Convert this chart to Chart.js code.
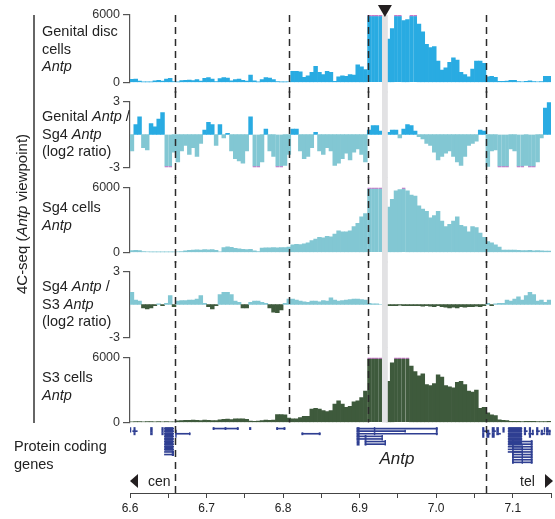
<!DOCTYPE html>
<html>
<head>
<meta charset="utf-8">
<script src="https://cdn.jsdelivr.net/npm/chart.js"></script>
<style>
  body { margin: 0; background: #fff; }
  #page { position: relative; width: 555px; height: 519px; overflow: hidden;
          font-family: 'Liberation Sans', Arial, Helvetica, sans-serif; color: #222; }
  canvas { position: absolute; left: 0; }
  .lbl { position: absolute; left: 42px; font-size: 14.5px; line-height: 17.5px; white-space: nowrap; }
  #ytitle { position: absolute; left: 21px; top: 214px; font-size: 15px; white-space: nowrap;
            transform: translate(-50%, -50%) rotate(-90deg); }
  #ybar { position: absolute; left: 33px; top: 15px; width: 1.5px; height: 408px; background: #666; }
  .ctext { position: absolute; top: 472px; font-size: 14px; line-height: 18px; }
  .tri { position: absolute; top: 474px; width: 0; height: 0;
         border-top: 7px solid transparent; border-bottom: 7px solid transparent; }
  #antp { position: absolute; left: 397px; top: 459px; font-size: 17px; font-style: italic;
          transform: translate(-50%, -50%); }
</style>
</head>
<body>
<div id="page">
  <canvas id="t1" width="555" height="93" style="top:0px"></canvas>
  <canvas id="t2" width="555" height="87" style="top:91px"></canvas>
  <canvas id="t3" width="555" height="86" style="top:177px"></canvas>
  <canvas id="t4" width="555" height="87" style="top:261px"></canvas>
  <canvas id="t5" width="555" height="86" style="top:347px"></canvas>
  <canvas id="genes" width="555" height="93" style="top:426px"></canvas>

  <div id="ybar"></div>
  <div id="ytitle">4C-seq (<i>Antp</i> viewpoint)</div>
  <div class="lbl" style="top:23px">Genital disc<br>cells<br><i>Antp</i></div>
  <div class="lbl" style="top:108px">Genital <i>Antp</i> /<br>Sg4 <i>Antp</i><br>(log2 ratio)</div>
  <div class="lbl" style="top:199px">Sg4 cells<br><i>Antp</i></div>
  <div class="lbl" style="top:278px">Sg4 <i>Antp</i> /<br>S3 <i>Antp</i><br>(log2 ratio)</div>
  <div class="lbl" style="top:369px">S3 cells<br><i>Antp</i></div>
  <div class="lbl" style="top:438px;left:14px">Protein coding<br>genes</div>
  <div id="antp">Antp</div>
  <div class="tri" style="left:130px;border-right:8px solid #231f20"></div>
  <div class="ctext" style="left:148px">cen</div>
  <div class="ctext" style="left:520px">tel</div>
  <div class="tri" style="left:545px;border-left:8px solid #231f20"></div>
</div>
<script>
const family = "'Liberation Sans', Arial, Helvetica, sans-serif";
Chart.defaults.font.family = family;

// genome window (Mb) and 5 kb bins
const xMin = 6.6, xMax = 7.15;
const binStart = 6.6, binSize = 0.005;

// 4C-seq read counts per bin
const genital = [
  280, 300, 120, 20, 20, 40, 150, 200, 120, 300,
  380, 80, 40, 180, 200, 220, 180, 250, 120, 380,
  430, 300, 80, 350, 430, 400, 150, 250, 300, 200,
  120, 660, 150, 40, 250, 430, 400, 250, 80, 40,
  20, 60, 1000, 1000, 950, 450, 600, 900, 1430, 900,
  700, 1000, 900, 100, 500, 600, 550, 700, 650, 1570,
  1400, 1140, 6000, 6000, 6000, 6000, 6000, 3860, 4800, 6000,
  6000, 5500, 5600, 6000, 6000, 5200, 4500, 3400, 3100, 3200,
  1900, 1100, 1300, 1800, 2200, 2000, 900, 700, 500, 1200,
  1900, 1900, 1700, 500, 550, 450, 100, 100, 120, 200,
  200, 80, 60, 100, 150, 80, 60, 80, 550, 550
];
const genitalVsSg4 = [
  -1.5, 0.9, 1.6, -1.2, -1.4, 1.0, 0.7, 1.4, 2.0, -3,
  -3, -1.6, -2.5, -1.5, -1.0, -1.8, -1.2, -2.0, -0.8, 0.4,
  1.1, 0.9, -1.0, 0.9, -0.3, 0.1, -1.5, -2.2, -2.4, -2.6,
  -1.5, 1.6, -3, -3, -2.5, 0.5, -1.5, -2.0, -3, -3,
  -2.8, -1.8, 0.5, 0.5, -1.5, -2.2, -2.0, -1.2, 0.2, -1.5,
  -1.8, -1.2, -1.5, -2.8, -2.6, -2.2, -1.7, -2.3, -1.6, -1.3,
  -1.8, -2.5, 0.4, 0.8, 0.8, 0.3, 0, 0.2, 0.4, 0.4,
  -0.3, 0.5, 0.9, 0.8, 0.3, -0.2, -0.4, -0.8, -1.0, -1.6,
  -2.3, -2.0, -1.7, -1.5, -2.0, -2.5, -2.8, -2.0, -1.0, -0.8,
  -0.6, 0.4, 0.3, -2.9, -1.5, -1.4, -3, -3, -3, -1.3,
  -1.5, -3, -3, -2.8, -3, -3, -2.5, -0.3, 2.4, 2.9
];
const sg4 = [
  170, 200, 170, 80, 50, 30, 30, 30, 30, 40,
  40, 30, 50, 80, 150, 200, 220, 250, 230, 260,
  240, 260, 200, 60, 450, 520, 480, 380, 330, 300,
  280, 300, 150, 80, 400, 430, 420, 450, 430, 450,
  460, 500, 700, 750, 720, 800, 900, 1100, 1250, 1400,
  1350, 1500, 1450, 1700, 2000, 1900, 1900, 2000, 2400, 2700,
  3300, 3600, 6000, 6000, 6000, 6000, 6000, 4200, 4900, 5700,
  5800, 6000, 5700, 5300, 5200, 4300, 4000, 3800, 3200, 3400,
  3800, 2900, 2400, 2600, 2900, 3300, 2500, 2400, 1900, 2400,
  2300, 1800, 1400, 1000, 900, 700, 500, 230, 230, 220,
  230, 200, 180, 180, 200, 160, 180, 150, 130, 130
];
const sg4VsS3 = [
  1.1, 0.4, 0.3, -0.3, -0.4, -0.3, -0.1, 0.05, -0.1, 0.1,
  0.8, -0.2, 0.3, 0.35, 0.35, 0.4, 0.4, 0.5, 0.8, 0.1,
  -0.2, -0.4, -0.1, 0.9, 1.1, 1.1, 0.9, 0.3, 0.2, -0.3,
  -0.3, 0.2, 0.3, 0.3, 0.2, 0.1, -0.3, -0.7, -0.75, -0.5,
  0.1, 0.5, 0.5, 0.4, 0.3, 0.25, 0.2, 0.3, 0.3, 0.25,
  0.35, 0.3, 0.6, 0.4, 0.3, 0.35, 0.4, 0.45, 0.5, 0.5,
  0.45, 0.4, 0.1, 0.05, 0.05, 0, 0, -0.1, -0.1, -0.1,
  -0.05, -0.1, -0.1, -0.1, -0.1, -0.1, -0.15, -0.1, -0.15, -0.2,
  -0.1, -0.2, -0.25, -0.3, -0.25, -0.3, -0.2, -0.25, -0.2, -0.2,
  -0.15, -0.2, -0.1, 0.1, -0.1, 0.05, 0.1, 0.1, 0.4, 0.3,
  0.5, 0.7, 0.4, 0.8, 1.1, 0.9, 0.3, 0.4, 0.2, 0.4
];
const s3 = [
  60, 80, 90, 70, 80, 90, 60, 80, 70, 90,
  70, 60, 150, 180, 200, 190, 220, 200, 180, 220,
  200, 180, 180, 250, 300, 320, 280, 330, 340, 350,
  300, 130, 110, 120, 180, 220, 200, 220, 720, 730,
  700, 400, 350, 340, 450, 580, 580, 1250, 1300, 1250,
  1100, 1000, 1100, 1700, 2000, 1700, 1400, 1500, 1900, 2000,
  2300, 2900, 6000, 6000, 6000, 6000, 6000, 3800, 5500, 6000,
  6000, 6000, 6000, 5200, 4700, 4300, 4500, 3500, 3400, 3600,
  4400, 4200, 3400, 3300, 3200, 3700, 3800, 3500, 2900, 2800,
  3000, 1300, 1400, 900, 700, 650, 250, 200, 180, 100,
  110, 100, 90, 100, 110, 100, 90, 80, 90, 100
];

// TAD-like boundaries (dashed) and the viewpoint
const boundaries = [6.6592, 6.808, 6.9115, 7.065];
const outerBoundaries = [6.6592, 7.065];
const viewpoint = 6.933;
const viewpointBand = [6.9292, 6.9368];

// gene models: [from, to, firstRow, lastRow]
const transcripts = [
  [6.6035, 6.6095, 1, 1], [6.6450, 6.6570, 0, 10], [6.6595, 6.6785, 2, 2],
  [6.7085, 6.7415, 0, 0], [6.7915, 6.8025, 0, 0], [6.8245, 6.8485, 2, 2],
  [6.8965, 7.0015, 0, 0], [6.8965, 6.9595, 1, 1], [6.8965, 7.0015, 2, 2],
  [6.8965, 6.9295, 3, 4], [6.9070, 6.9335, 5, 6],
  [7.0615, 7.0650, 1, 1], [7.0665, 7.0705, 2, 2], [7.0735, 7.0775, 1, 1],
  [7.0800, 7.0840, 2, 2], [7.0940, 7.1120, 0, 9], [7.0995, 7.1255, 5, 13],
  [7.1150, 7.1190, 1, 1], [7.1210, 7.1270, 2, 2], [7.1310, 7.1350, 1, 1],
  [7.1370, 7.1420, 2, 2], [7.1440, 7.1490, 1, 1]
];
const exonBlocks = [
  [6.6000, 6.6012, 0, 1], [6.6050, 6.6068, 0, 2], [6.6268, 6.6292, 0, 2],
  [6.6415, 6.6435, 0, 2], [6.6455, 6.6560, 0, 8], [6.6550, 6.6570, 9, 10],
  [6.6595, 6.6605, 1, 3], [6.6775, 6.6785, 2, 2],
  [6.7085, 6.7100, 0, 0], [6.7240, 6.7255, 0, 0], [6.7400, 6.7415, 0, 0],
  [6.7560, 6.7580, 0, 0], [6.7915, 6.7930, 0, 0], [6.8010, 6.8025, 0, 0],
  [6.8245, 6.8260, 2, 2], [6.8470, 6.8485, 2, 2],
  [6.8965, 6.8995, 0, 6], [6.9070, 6.9085, 3, 6], [6.9190, 6.9200, 0, 2],
  [6.9290, 6.9300, 3, 4], [6.9330, 6.9340, 5, 6], [6.9590, 6.9600, 1, 1],
  [7.0000, 7.0015, 0, 2],
  [7.0605, 7.0625, 0, 3], [7.0660, 7.0690, 1, 3], [7.0730, 7.0760, 0, 3],
  [7.0790, 7.0815, 0, 2], [7.0870, 7.0890, 0, 1], [7.0945, 7.1115, 0, 6],
  [7.0995, 7.1010, 5, 13], [7.1120, 7.1130, 7, 13], [7.1240, 7.1255, 5, 13],
  [7.1150, 7.1170, 0, 2], [7.1215, 7.1235, 0, 3], [7.1255, 7.1270, 1, 2],
  [7.1310, 7.1330, 0, 2], [7.1370, 7.1390, 1, 2], [7.1410, 7.1420, 0, 1],
  [7.1440, 7.1465, 0, 2], [7.1475, 7.1490, 1, 2]
];

const blue = '#29abe2', teal = '#82c7d3', green = '#3e5a3c', capColor = '#c878c8', navy = '#2f3f92';

// dashed boundaries, grey viewpoint band and the viewpoint triangle
const guides = {
  id: 'guides',
  afterDatasetsDraw(chart, args, o) {
    const {ctx, chartArea} = chart;
    const x = chart.scales.x;
    const top = o.fromArea ? chartArea.top : 0;
    const bottom = o.toArea ? chartArea.bottom + (o.extra || 0) : chart.height;
    ctx.save();
    if (o.band) {
      const a = x.getPixelForValue(viewpointBand[0]);
      const b = x.getPixelForValue(viewpointBand[1]);
      ctx.fillStyle = '#e2e2e4';
      ctx.fillRect(a, top, b - a, bottom - top);
    }
    ctx.strokeStyle = '#2b2b2b';
    ctx.lineWidth = 1.5;
    ctx.setLineDash([7, 5]);
    (o.lines || []).forEach(v => {
      const px = Math.round(x.getPixelForValue(v)) + 0.5;
      ctx.beginPath();
      ctx.moveTo(px, top);
      ctx.lineTo(px, bottom);
      ctx.stroke();
    });
    if (o.marker) {
      const vx = x.getPixelForValue(viewpoint);
      ctx.setLineDash([]);
      ctx.fillStyle = '#231f20';
      ctx.beginPath();
      ctx.moveTo(vx - 7, 5);
      ctx.lineTo(vx + 7, 5);
      ctx.lineTo(vx, 17);
      ctx.closePath();
      ctx.fill();
    }
    ctx.restore();
  }
};

function track(id, values, cfg) {
  const data = values.map((v, i) => ({x: binStart + binSize * (i + 0.5), y: v}));
  const val = c => (c.parsed ? c.parsed.y : 0);
  return new Chart(document.getElementById(id), {
    type: 'bar',
    data: {
      datasets: [{
        data,
        backgroundColor: c => (val(c) < 0 ? cfg.neg : cfg.pos),
        borderColor: capColor,
        borderSkipped: false,
        borderWidth: c => {
          const v = val(c);
          if (v >= cfg.max) return {top: 1.5, right: 0, bottom: 0, left: 0};
          if (v <= cfg.min) return {top: 0, right: 0, bottom: 1.5, left: 0};
          return 0;
        },
        barPercentage: 1,
        categoryPercentage: 1
      }]
    },
    options: {
      responsive: false,
      animation: false,
      layout: {padding: {top: cfg.padTop, bottom: cfg.padBottom, left: 0, right: 4}},
      plugins: {
        legend: {display: false},
        tooltip: {enabled: false},
        guides: cfg.guides
      },
      scales: {
        x: {type: 'linear', min: xMin, max: xMax, offset: false, display: false},
        y: {
          min: cfg.min,
          max: cfg.max,
          afterFit: s => { s.width = 130; },
          afterBuildTicks: s => { s.ticks = [{value: cfg.min}, {value: cfg.max}]; },
          ticks: {callback: v => String(v), padding: 3, color: '#333', font: {size: 12.5}},
          grid: {drawOnChartArea: false, tickLength: 7, color: '#555', lineWidth: 1.2},
          border: {color: '#555', width: 1.2}
        }
      }
    },
    plugins: [guides]
  });
}

track('t1', genital, {min: 0, max: 6000, pos: blue, neg: blue, padTop: 15, padBottom: 8,
  guides: {lines: boundaries, band: true, marker: true, fromArea: true}});
track('t2', genitalVsSg4, {min: -3, max: 3, pos: blue, neg: teal, padTop: 8, padBottom: 9,
  guides: {lines: boundaries, band: true}});
track('t3', sg4, {min: 0, max: 6000, pos: teal, neg: teal, padTop: 8, padBottom: 9,
  guides: {lines: boundaries, band: true}});
track('t4', sg4VsS3, {min: -3, max: 3, pos: teal, neg: green, padTop: 8, padBottom: 9,
  guides: {lines: boundaries, band: true}});
track('t5', s3, {min: 0, max: 6000, pos: green, neg: green, padTop: 8, padBottom: 9,
  guides: {lines: boundaries, band: true, toArea: true}});

function rowsToBars(list) {
  const out = [];
  list.forEach(([from, to, r0, r1]) => {
    for (let r = r0; r <= r1; r++) out.push({x: [from, to], y: r});
  });
  return out;
}

new Chart(document.getElementById('genes'), {
  type: 'bar',
  data: {
    datasets: [
      {data: rowsToBars(transcripts), backgroundColor: navy, barThickness: 1, grouped: false},
      {data: rowsToBars(exonBlocks), backgroundColor: navy, barThickness: 2.2, grouped: false}
    ]
  },
  options: {
    indexAxis: 'y',
    responsive: false,
    animation: false,
    layout: {padding: {left: 130, right: 4, top: 1, bottom: 0}},
    plugins: {
      legend: {display: false},
      tooltip: {enabled: false},
      guides: {lines: outerBoundaries, toArea: true, extra: 4}
    },
    scales: {
      x: {
        type: 'linear', min: xMin, max: xMax, offset: false, position: 'bottom',
        afterFit: s => { s.height = 26; },
        ticks: {
          stepSize: 0.05, autoSkip: false, maxRotation: 0, padding: 3, color: '#222', font: {size: 12},
          callback: v => { const h = Math.round(v * 100); return h % 10 === 0 ? (h / 100).toFixed(1) : ''; }
        },
        grid: {drawOnChartArea: false, tickLength: 5, color: '#444', offset: false},
        border: {color: '#444'}
      },
      y: {type: 'linear', reverse: true, min: -0.6, max: 24.8, offset: false, display: false}
    }
  },
  plugins: [guides]
});
</script>
</body>
</html>
